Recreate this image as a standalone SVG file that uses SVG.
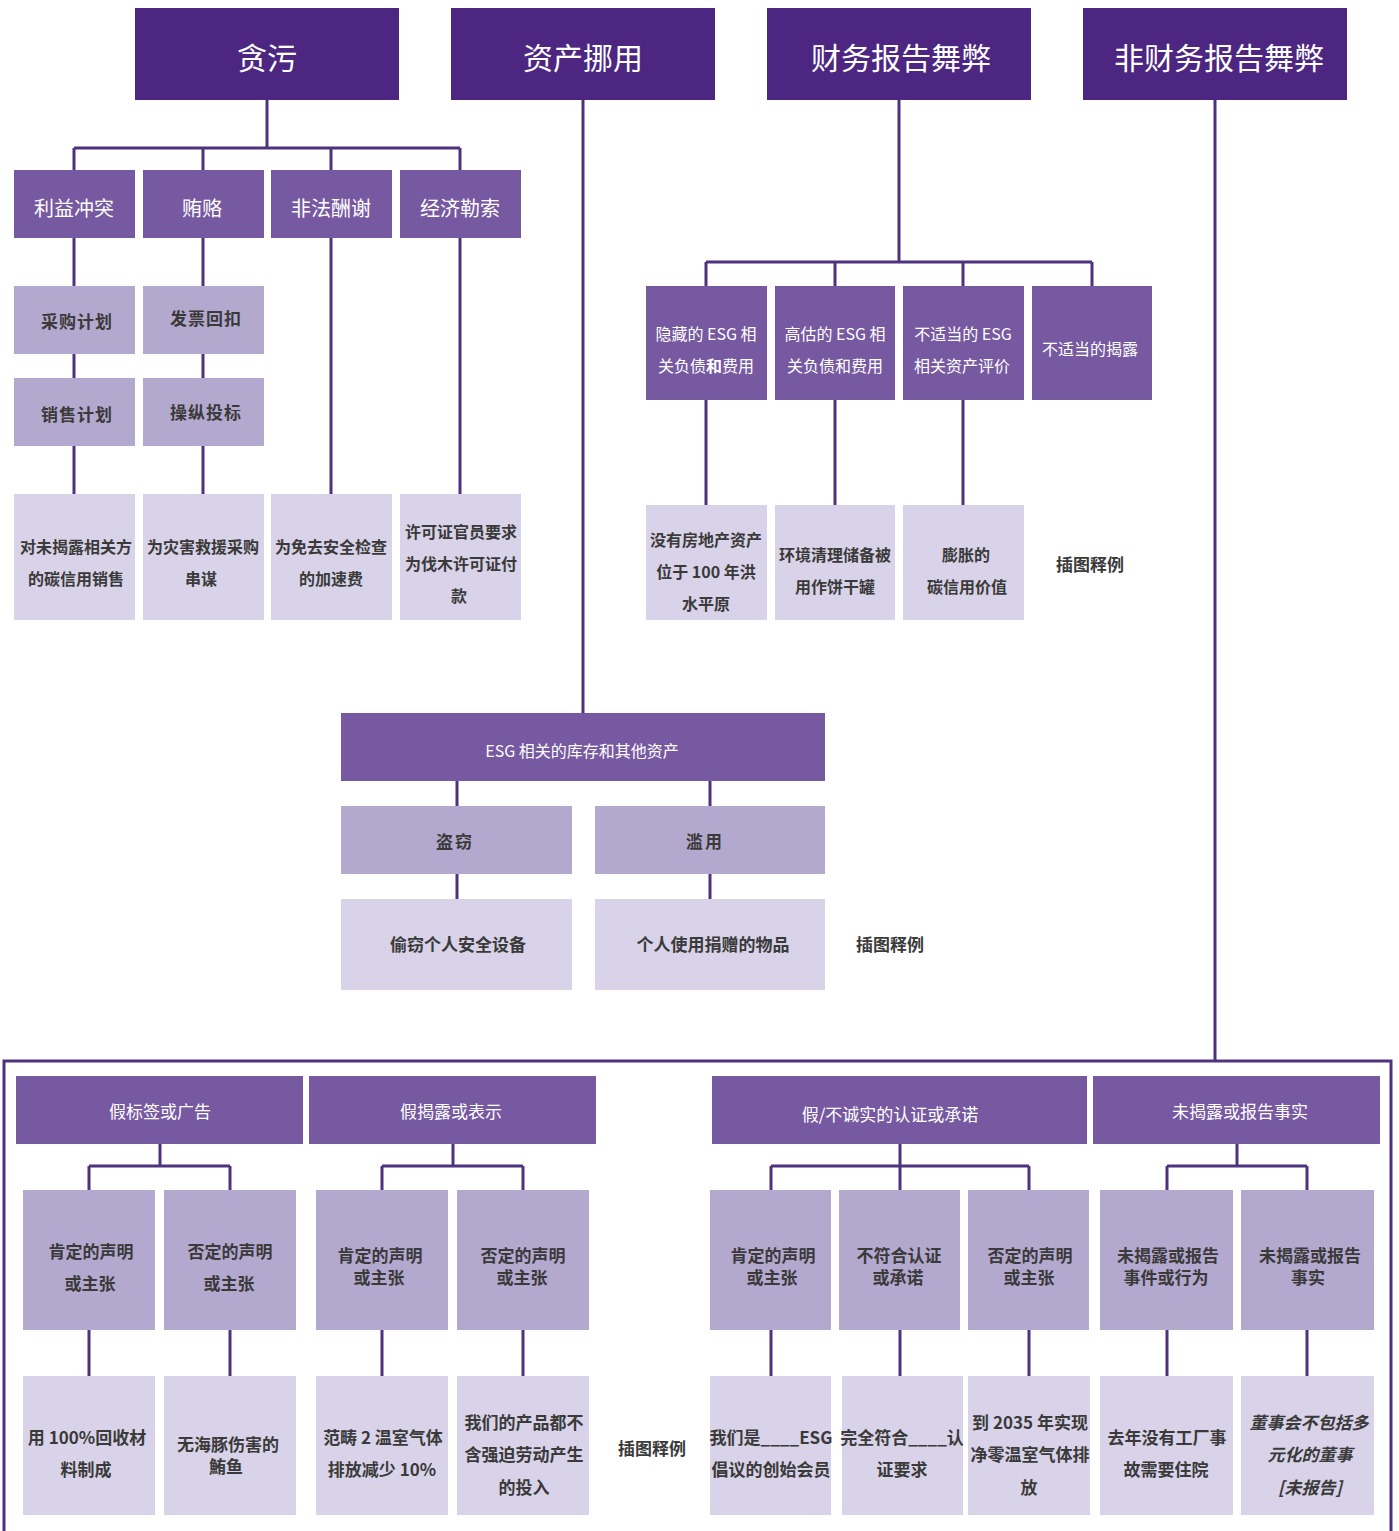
<svg xmlns="http://www.w3.org/2000/svg" width="1399" height="1531" viewBox="0 0 1399 1531">
<style>
.d{fill:#4C2680}
.m{fill:#7659A0}
.l{fill:#B3A9CF}
.x{fill:#D8D3E8}
.ln{fill:none;stroke:#4E3280;stroke-width:3}
text{font-family:"Noto Sans CJK SC","Noto Sans",sans-serif;text-anchor:middle;dominant-baseline:central}
.h{fill:#fff;font-size:30px}
.w{fill:#fff;font-size:20px}
.ws{fill:#fff;font-size:16px}
.ws2{fill:#fff;font-size:17px}
.b{fill:#3a3a3a;font-size:16px;font-weight:bold}
.b2{fill:#3a3a3a;font-size:17px;font-weight:bold}
.bi{fill:#3a3a3a;font-size:17px;font-weight:bold;font-style:italic}
</style>
<rect width="1399" height="1531" fill="#fff"/>
<g id="connectors">
<path class="ln" d="M267 100V148M74 148H460M74 148V170M203 148V170M331 148V170M460 148V170"/>
<path class="ln" d="M74 238V286M74 354V378M74 446V494M203 238V286M203 354V378M203 446V494M331 238V494M460 238V494"/>
<path class="ln" d="M583 100V713M457 781V806M710 781V806M457 874V899M710 874V899"/>
<path class="ln" d="M899 100V262M706 262H1092M706 262V286M835 262V286M963 262V286M1092 262V286M706 400V505M835 400V505M963 400V505"/>
<path class="ln" d="M1215 100V1061M4 1531V1061H1391V1531"/>
<path class="ln" d="M160 1144V1166M89 1166H230M89 1166V1190M230 1166V1190M453 1144V1166M382 1166H523M382 1166V1190M523 1166V1190"/>
<path class="ln" d="M900 1144V1190M771 1166H1029M771 1166V1190M1029 1166V1190M1237 1144V1166M1167 1166H1307M1167 1166V1190M1307 1166V1190"/>
<path class="ln" d="M89 1330V1376M230 1330V1376M382 1330V1376M523 1330V1376M771 1330V1376M900 1330V1376M1029 1330V1376M1167 1330V1376M1307 1330V1376"/>
</g>
<g id="n-tanwu"><rect class="d" x="135" y="8" width="264" height="92"/><text class="h" x="267" y="56">贪污</text></g>
<g id="n-zichan"><rect class="d" x="451" y="8" width="264" height="92"/><text class="h" x="583" y="56">资产挪用</text></g>
<g id="n-caiwu"><rect class="d" x="767" y="8" width="264" height="92"/><text class="h" x="901" y="56">财务报告舞弊</text></g>
<g id="n-feicaiwu"><rect class="d" x="1083" y="8" width="264" height="92"/><text class="h" x="1219" y="56">非财务报告舞弊</text></g>

<g id="n-liyi"><rect class="m" x="14" y="170" width="121" height="68"/><text class="w" x="74" y="207">利益冲突</text></g>
<g id="n-huilu"><rect class="m" x="143" y="170" width="121" height="68"/><text class="w" x="202" y="207">贿赂</text></g>
<g id="n-feifa"><rect class="m" x="271" y="170" width="121" height="68"/><text class="w" x="331" y="207">非法酬谢</text></g>
<g id="n-jingji"><rect class="m" x="400" y="170" width="121" height="68"/><text class="w" x="460" y="207">经济勒索</text></g>

<g id="n-caigou"><rect class="l" x="14" y="286" width="121" height="68"/><text class="b2" x="77" y="320" letter-spacing="1">采购计划</text></g>
<g id="n-fapiao"><rect class="l" x="143" y="286" width="121" height="68"/><text class="b2" x="206" y="317" letter-spacing="1">发票回扣</text></g>
<g id="n-xiaoshou"><rect class="l" x="14" y="378" width="121" height="68"/><text class="b2" x="77" y="413" letter-spacing="1">销售计划</text></g>
<g id="n-caozong"><rect class="l" x="143" y="378" width="121" height="68"/><text class="b2" x="206" y="411" letter-spacing="1">操纵投标</text></g>

<g id="n-ex1"><rect class="x" x="14" y="494" width="121" height="126"/><text class="b" x="76" y="546">对未揭露相关方</text><text class="b" x="76" y="578">的碳信用销售</text></g>
<g id="n-ex2"><rect class="x" x="143" y="494" width="121" height="126"/><text class="b" x="203" y="546">为灾害救援采购</text><text class="b" x="201" y="578">串谋</text></g>
<g id="n-ex3"><rect class="x" x="271" y="494" width="121" height="126"/><text class="b" x="331" y="546">为免去安全检查</text><text class="b" x="331" y="578">的加速费</text></g>
<g id="n-ex4"><rect class="x" x="400" y="494" width="121" height="126"/><text class="b" x="461" y="531">许可证官员要求</text><text class="b" x="461" y="563">为伐木许可证付</text><text class="b" x="459" y="595">款</text></g>

<g id="n-esg"><rect class="m" x="341" y="713" width="484" height="68"/><text class="ws" x="582" y="750">ESG 相关的库存和其他资产</text></g>
<g id="n-daoqie"><rect class="l" x="341" y="806" width="231" height="68"/><text class="b2" x="455" y="840" letter-spacing="2">盗窃</text></g>
<g id="n-lanyong"><rect class="l" x="595" y="806" width="230" height="68"/><text class="b2" x="705" y="840" letter-spacing="2">滥用</text></g>
<g id="n-touqie"><rect class="x" x="341" y="899" width="231" height="91"/><text class="b2" x="458" y="943">偷窃个人安全设备</text></g>
<g id="n-geren"><rect class="x" x="595" y="899" width="230" height="91"/><text class="b2" x="713" y="943">个人使用捐赠的物品</text></g>
<g id="n-illus2"><text class="b2" x="890" y="943">插图释例</text></g>

<g id="n-yincang"><rect class="m" x="646" y="286" width="121" height="114"/><text class="ws" x="706" y="333">隐藏的 ESG 相</text><text class="ws" x="706" y="365">关负债<tspan font-weight="bold">和</tspan>费用</text></g>
<g id="n-gaogu"><rect class="m" x="775" y="286" width="120" height="114"/><text class="ws" x="835" y="333">高估的 ESG 相</text><text class="ws" x="835" y="365">关负债和费用</text></g>
<g id="n-budang"><rect class="m" x="903" y="286" width="121" height="114"/><text class="ws" x="963" y="333">不适当的 ESG</text><text class="ws" x="962" y="365">相关资产评价</text></g>
<g id="n-jielu"><rect class="m" x="1032" y="286" width="120" height="114"/><text class="ws" x="1090" y="348">不适当的揭露</text></g>
<g id="n-fex1"><rect class="x" x="646" y="505" width="121" height="115"/><text class="b" x="706" y="539">没有房地产资产</text><text class="b" x="706" y="571">位于 100 年洪</text><text class="b" x="706" y="603">水平原</text></g>
<g id="n-fex2"><rect class="x" x="775" y="505" width="120" height="115"/><text class="b" x="835" y="554">环境清理储备被</text><text class="b" x="835" y="586">用作饼干罐</text></g>
<g id="n-fex3"><rect class="x" x="903" y="505" width="121" height="115"/><text class="b" x="966" y="554">膨胀的</text><text class="b" x="967" y="586">碳信用价值</text></g>
<g id="n-illus1"><text class="b2" x="1090" y="563">插图释例</text></g>

<g id="n-jiabiaoqian"><rect class="m" x="16" y="1076" width="287" height="68"/><text class="ws2" x="160" y="1110">假标签或广告</text></g>
<g id="n-jiajielu"><rect class="m" x="309" y="1076" width="287" height="68"/><text class="ws2" x="451" y="1110">假揭露或表示</text></g>
<g id="n-jiarenzheng"><rect class="m" x="712" y="1076" width="375" height="68"/><text class="ws2" x="890" y="1113">假/不诚实的认证或承诺</text></g>
<g id="n-weijielu"><rect class="m" x="1093" y="1076" width="287" height="68"/><text class="ws2" x="1240" y="1110">未揭露或报告事实</text></g>

<g id="n-b1"><rect class="l" x="23" y="1190" width="132" height="140"/><text class="b2" x="91" y="1250">肯定的声明</text><text class="b2" x="90" y="1282">或主张</text></g>
<g id="n-b2"><rect class="l" x="164" y="1190" width="132" height="140"/><text class="b2" x="230" y="1250">否定的声明</text><text class="b2" x="229" y="1282">或主张</text></g>
<g id="n-b3"><rect class="l" x="316" y="1190" width="132" height="140"/><text class="b2" x="380" y="1254">肯定的声明</text><text class="b2" x="379" y="1276">或主张</text></g>
<g id="n-b4"><rect class="l" x="457" y="1190" width="132" height="140"/><text class="b2" x="523" y="1254">否定的声明</text><text class="b2" x="522" y="1276">或主张</text></g>
<g id="n-b5"><rect class="l" x="710" y="1190" width="121" height="140"/><text class="b2" x="773" y="1254">肯定的声明</text><text class="b2" x="772" y="1276">或主张</text></g>
<g id="n-b6"><rect class="l" x="839" y="1190" width="121" height="140"/><text class="b2" x="899" y="1254">不符合认证</text><text class="b2" x="898" y="1276">或承诺</text></g>
<g id="n-b7"><rect class="l" x="968" y="1190" width="121" height="140"/><text class="b2" x="1030" y="1254">否定的声明</text><text class="b2" x="1029" y="1276">或主张</text></g>
<g id="n-b8"><rect class="l" x="1100" y="1190" width="133" height="140"/><text class="b2" x="1168" y="1254">未揭露或报告</text><text class="b2" x="1166" y="1276">事件或行为</text></g>
<g id="n-b9"><rect class="l" x="1241" y="1190" width="133" height="140"/><text class="b2" x="1310" y="1254">未揭露或报告</text><text class="b2" x="1308" y="1276">事实</text></g>

<g id="n-c1"><rect class="x" x="23" y="1376" width="132" height="139"/><text class="b2" x="87" y="1436">用 100%回收材</text><text class="b2" x="86" y="1468">料制成</text></g>
<g id="n-c2"><rect class="x" x="164" y="1376" width="132" height="139"/><text class="b2" x="228" y="1443">无海豚伤害的</text><text class="b2" x="226" y="1465">鮪鱼</text></g>
<g id="n-c3"><rect class="x" x="316" y="1376" width="132" height="139"/><text class="b2" x="383" y="1436">范畴 2 温室气体</text><text class="b2" x="382" y="1468">排放减少 10%</text></g>
<g id="n-c4"><rect class="x" x="457" y="1376" width="132" height="139"/><text class="b2" x="524" y="1421">我们的产品都不</text><text class="b2" x="524" y="1453">含强迫劳动产生</text><text class="b2" x="524" y="1486">的投入</text></g>
<g id="n-illus3"><text class="b2" x="652" y="1447">插图释例</text></g>
<g id="n-c5"><rect class="x" x="710" y="1376" width="121" height="139"/><text class="b2" x="771" y="1436">我们是____ESG</text><text class="b2" x="771" y="1468">倡议的创始会员</text></g>
<g id="n-c6"><rect class="x" x="842" y="1376" width="121" height="139"/><text class="b2" x="902" y="1436">完全符合____认</text><text class="b2" x="902" y="1468">证要求</text></g>
<g id="n-c7"><rect class="x" x="968" y="1376" width="122" height="139"/><text class="b2" x="1030" y="1421">到 2035 年实现</text><text class="b2" x="1030" y="1453">净零温室气体排</text><text class="b2" x="1029" y="1486">放</text></g>
<g id="n-c8"><rect class="x" x="1100" y="1376" width="133" height="139"/><text class="b2" x="1167" y="1436">去年没有工厂事</text><text class="b2" x="1166" y="1468">故需要住院</text></g>
<g id="n-c9"><rect class="x" x="1241" y="1376" width="133" height="139"/><text class="bi" x="1309" y="1421">董事会不包括多</text><text class="bi" x="1310" y="1453">元化的董事</text><text class="bi" x="1310" y="1486">[未报告]</text></g>
</svg>
